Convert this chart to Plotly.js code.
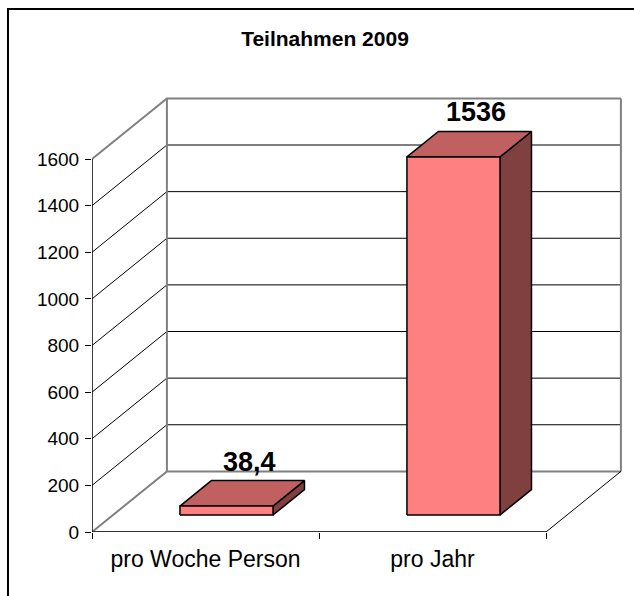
<!DOCTYPE html>
<html>
<head>
<meta charset="utf-8">
<script src="https://cdn.plot.ly/plotly-3.0.1.min.js"></script>
<style>html,body{margin:0;padding:0;background:#fff;}#chart{width:634px;height:596px;}</style>
</head>
<body>
<div id="chart"></div>
<script>
// ---- data ----
const chartTitle = 'Teilnahmen 2009';
const categories = ['pro Woche Person', 'pro Jahr'];
const values = [38.4, 1536];
const yTickVals = [0, 200, 400, 600, 800, 1000, 1200, 1400, 1600];

// ---- 3D look (style constants) ----
const DX = 0.33;      // depth shift in category units
const DY = 260;       // depth shift in value units
const D1 = 0.28, D2 = 0.70;   // bar front/back depth fractions
const HALF_W = 0.205;         // half bar width (category units)
const yMaxVal = yTickVals[yTickVals.length - 1];
const nCat = categories.length;
const font = 'Arial, "Liberation Sans", sans-serif';

const traces = [];
function line(xs, ys, color, width) {
  traces.push({type: 'scatter', mode: 'lines', x: xs, y: ys,
    line: {color: color, width: width}, hoverinfo: 'skip', showlegend: false});
}
function poly(xs, ys, fill) {
  traces.push({type: 'scatter', mode: 'lines', x: xs.concat([xs[0]]), y: ys.concat([ys[0]]),
    fill: 'toself', fillcolor: fill, line: {color: '#000', width: 1.5},
    hoverinfo: 'skip', showlegend: false});
}

// gridlines (front diagonal + back wall horizontal)
yTickVals.forEach(v => {
  if (v === 0 || v === yMaxVal) return;
  line([0, DX, nCat + DX], [v, v + DY, v + DY], '#000', 1);
});
// walls and floor edges
line([0, DX, nCat + DX], [yMaxVal, yMaxVal + DY, yMaxVal + DY], '#808080', 2);
line([DX, DX], [DY, yMaxVal + DY], '#808080', 2);
line([nCat + DX, nCat + DX], [DY, yMaxVal + DY], '#808080', 2);
line([0, DX, nCat + DX], [0, DY, DY], '#808080', 2);
line([nCat, nCat + DX], [0, DY], '#000', 1);
// front axes
line([0, nCat], [0, 0], '#333', 2);
line([0, 0], [0, yMaxVal], '#000', 1.5);

// bars
const annotations = [];
values.forEach((v, i) => {
  const c = i + 0.5;
  const xl = c - HALF_W, xr = c + HALF_W;
  const fx = D1 * DX, fy = D1 * DY, bx = D2 * DX, by = D2 * DY;
  // side face
  poly([xr + fx, xr + bx, xr + bx, xr + fx], [fy, by, v + by, v + fy], '#804040');
  // top face
  poly([xl + fx, xr + fx, xr + bx, xl + bx], [v + fy, v + fy, v + by, v + by], '#C06060');
  // front face
  poly([xl + fx, xr + fx, xr + fx, xl + fx], [fy, fy, v + fy, v + fy], '#FF8080');
  annotations.push({
    x: c + (D1 + D2) / 2 * DX + 0.03, y: v + by, xref: 'x', yref: 'y',
    text: String(v).replace('.', ','), showarrow: false,
    yanchor: 'bottom', xanchor: 'center', yshift: 2,
    font: {family: font, size: 27, color: '#000', weight: 'bold'}
  });
});

const layout = {
  width: 634, height: 596,
  margin: {l: 92, r: 0, t: 0, b: 64, pad: 0},
  paper_bgcolor: '#fff', plot_bgcolor: 'rgba(0,0,0,0)',
  showlegend: false, hovermode: false,
  title: {text: '<b>' + chartTitle + '</b>', x: 325 / 634, y: 1 - 39 / 596,
    xanchor: 'center', yanchor: 'middle', xref: 'container', yref: 'container',
    font: {family: font, size: 21, color: '#000'}},
  xaxis: {
    range: [0, 542 / 227], showgrid: false, zeroline: false, showline: false,
    tickmode: 'array', tickvals: categories.map((_, i) => i + 0.5), ticktext: categories,
    ticks: '', ticklabelstandoff: 11,
    tickfont: {family: font, size: 23, color: '#000'},
    minor: {tickmode: 'linear', tick0: 0, dtick: 1, ticks: 'outside', ticklen: 6, tickcolor: '#000', tickwidth: 1, showgrid: false},
    fixedrange: true
  },
  yaxis: {
    range: [0, 1600 * 532 / 373], showgrid: false, zeroline: false, showline: false,
    tickmode: 'array', tickvals: yTickVals, ticks: 'outside', ticklen: 6,
    tickcolor: '#000', tickwidth: 1, ticklabelstandoff: 2,
    tickfont: {family: font, size: 19, color: '#000'},
    fixedrange: true
  },
  annotations: annotations,
  shapes: [{
    type: 'path', xref: 'paper', yref: 'paper',
    path: 'M -0.155 -0.3 L -0.155 ' + ((532 - 9) / 532) + ' L 1.2 ' + ((532 - 9) / 532),
    line: {color: '#000', width: 2}
  }]
};

Plotly.newPlot('chart', traces, layout, {staticPlot: true, displayModeBar: false});
</script>
</body>
</html>
